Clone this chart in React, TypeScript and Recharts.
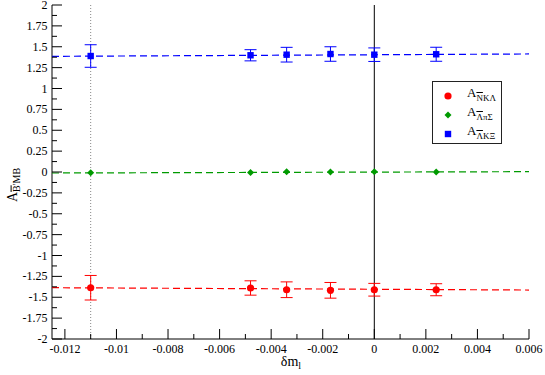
import {
  ErrorBar,
  ReferenceLine,
  Scatter,
  ScatterChart,
  XAxis,
  YAxis,
} from "recharts";

// quark mass shift (x) for each ensemble
const dm = [-0.011, -0.0048, -0.0034, -0.0017, 0, 0.0024];

// A_{N K Lambda}
const nkl = [-1.386, -1.389, -1.41, -1.417, -1.41, -1.41];
const nklErr = [0.147, 0.086, 0.094, 0.094, 0.076, 0.072];

// A_{Lambda pi Sigma}
const lps = [-0.01, -0.006, 0.002, 0.001, 0.003, 0.0];

// A_{Lambda K Xi}
const lkx = [1.389, 1.398, 1.405, 1.413, 1.405, 1.41];
const lkxErr = [0.135, 0.067, 0.088, 0.087, 0.081, 0.084];

// linear fits, evaluated at the plot edges
const fitX = [-0.0125, 0.006];
const fitNkl = [-1.3855, -1.4135];
const fitLps = [-0.012, 0.004];
const fitLkx = [1.385, 1.4135];

const xMajor = [-0.012, -0.01, -0.008, -0.006, -0.004, -0.002, 0, 0.002, 0.004, 0.006];
const xMinor = [-0.011, -0.009, -0.007, -0.005, -0.003, -0.001, 0.001, 0.003, 0.005];
const yMajor = [-2, -1.75, -1.5, -1.25, -1, -0.75, -0.5, -0.25, 0, 0.25, 0.5, 0.75, 1, 1.25, 1.5, 1.75, 2];
const yMinor = [-1.875, -1.625, -1.375, -1.125, -0.875, -0.625, -0.375, -0.125, 0.125, 0.375, 0.625, 0.875, 1.125, 1.375, 1.625, 1.875];

const FONT = "'Liberation Serif', serif";
const RED = "#ff0000";
const GREEN = "#009a00";
const BLUE = "#0000ff";

const pts = (ys: number[], errs?: number[]) =>
  dm.map((x, i) => ({ x, y: ys[i], err: errs ? errs[i] : 0 }));
const fit = (ys: number[]) => fitX.map((x, i) => ({ x, y: ys[i] }));

const labelStyle = { fontFamily: FONT, fontSize: 12 };

const BottomTick = ({ x, y, payload }: any) => {
  const major = xMajor.includes(payload.value);
  return (
    <g>
      <line x1={x} y1={y} x2={x} y2={y - (major ? 10 : 5)} stroke="#000" />
      {major && (
        <text x={x} y={y + 13.5} textAnchor="middle" style={labelStyle} fill="#000">
          {String(payload.value)}
        </text>
      )}
    </g>
  );
};

const TopTick = ({ x, y, payload }: any) => {
  const major = xMajor.includes(payload.value);
  return <line x1={x} y1={y} x2={x} y2={y + (major ? 10 : 5)} stroke="#000" />;
};

const LeftTick = ({ x, y, payload }: any) => {
  const major = yMajor.includes(payload.value);
  return (
    <g>
      <line x1={x} y1={y} x2={x + (major ? 10 : 5)} y2={y} stroke="#000" />
      {major && (
        <text x={x - 4.5} y={y + 4} textAnchor="end" style={labelStyle} fill="#000">
          {String(payload.value)}
        </text>
      )}
    </g>
  );
};

const RightTick = ({ x, y, payload }: any) => {
  const major = yMajor.includes(payload.value);
  return <line x1={x} y1={y} x2={x - (major ? 10 : 5)} y2={y} stroke="#000" />;
};

const Dot = ({ cx, cy }: any) => <circle cx={cx} cy={cy} r={3.6} fill={RED} />;
const Diamond = ({ cx, cy }: any) => (
  <polygon points={`${cx},${cy - 3.5} ${cx + 3.5},${cy} ${cx},${cy + 3.5} ${cx - 3.5},${cy}`} fill={GREEN} />
);
const Square = ({ cx, cy }: any) => <rect x={cx - 3.2} y={cy - 3.2} width={6.4} height={6.4} fill={BLUE} />;
const NoShape = () => <g />;

const legendRows = [
  { shape: "dot", color: RED, bar: "N", rest: "KΛ" },
  { shape: "diamond", color: GREEN, bar: "Λ", rest: "πΣ" },
  { shape: "square", color: BLUE, bar: "Λ", rest: "KΞ" },
];

const Marker = ({ shape, color }: { shape: string; color: string }) => (
  <svg width={10} height={10} style={{ display: "block" }}>
    {shape === "dot" && <circle cx={5} cy={5} r={3.6} fill={color} />}
    {shape === "diamond" && <polygon points="5,1.5 8.5,5 5,8.5 1.5,5" fill={color} />}
    {shape === "square" && <rect x={1.8} y={1.8} width={6.4} height={6.4} fill={color} />}
  </svg>
);

export default function App() {
  const lineStyle = { strokeWidth: 1.2, strokeDasharray: "7 4" };
  return (
    <div style={{ position: "absolute", left: 0, top: 0, width: 545, height: 375, fontFamily: FONT }}>
      <ScatterChart width={545} height={375} margin={{ top: 5, right: 16, bottom: 0, left: 0 }}>
        <XAxis
          dataKey="x"
          type="number"
          domain={[-0.0125, 0.006]}
          ticks={[...xMajor, ...xMinor]}
          interval={0}
          height={36}
          tickSize={0}
          tickMargin={0}
          axisLine={{ stroke: "#000" }}
          tickLine={false}
          tick={<BottomTick />}
        />
        <XAxis
          xAxisId="top"
          orientation="top"
          dataKey="x"
          type="number"
          domain={[-0.0125, 0.006]}
          ticks={[...xMajor, ...xMinor]}
          interval={0}
          height={0}
          tickSize={0}
          tickMargin={0}
          axisLine={{ stroke: "#000" }}
          tickLine={false}
          tick={<TopTick />}
        />
        <YAxis
          dataKey="y"
          type="number"
          domain={[-2, 2]}
          ticks={[...yMajor, ...yMinor]}
          interval={0}
          width={52}
          tickSize={0}
          tickMargin={0}
          axisLine={{ stroke: "#000" }}
          tickLine={false}
          tick={<LeftTick />}
        />
        <YAxis
          yAxisId="right"
          orientation="right"
          dataKey="y"
          type="number"
          domain={[-2, 2]}
          ticks={[...yMajor, ...yMinor]}
          interval={0}
          width={0}
          tickSize={0}
          tickMargin={0}
          axisLine={{ stroke: "#000" }}
          tickLine={false}
          tick={<RightTick />}
        />
        <ReferenceLine x={-0.011} stroke="#888" strokeDasharray="1 2" />
        <ReferenceLine x={0} stroke="#000" />

        <Scatter data={fit(fitNkl)} fill={RED} line={{ stroke: RED, ...lineStyle }} shape={<NoShape />} isAnimationActive={false} />
        <Scatter data={fit(fitLps)} fill={GREEN} line={{ stroke: GREEN, ...lineStyle }} shape={<NoShape />} isAnimationActive={false} />
        <Scatter data={fit(fitLkx)} fill={BLUE} line={{ stroke: BLUE, ...lineStyle }} shape={<NoShape />} isAnimationActive={false} />

        <Scatter data={pts(nkl, nklErr)} fill={RED} shape={<Dot />} isAnimationActive={false}>
          <ErrorBar dataKey="err" direction="y" width={6} stroke={RED} strokeWidth={1} />
        </Scatter>
        <Scatter data={pts(lps)} fill={GREEN} shape={<Diamond />} isAnimationActive={false} />
        <Scatter data={pts(lkx, lkxErr)} fill={BLUE} shape={<Square />} isAnimationActive={false}>
          <ErrorBar dataKey="err" direction="y" width={6} stroke={BLUE} strokeWidth={1} />
        </Scatter>
      </ScatterChart>

      {/* y axis title */}
      <div
        style={{
          position: "absolute",
          left: 15,
          top: 185,
          transform: "translate(-50%, -50%) rotate(-90deg)",
          whiteSpace: "nowrap",
          fontSize: 14,
          lineHeight: "16px",
        }}
      >
        A
        <sub style={{ fontSize: 10 }}>
          <span style={{ textDecoration: "overline" }}>B</span>'MB
        </sub>
      </div>

      {/* x axis title */}
      <div
        style={{
          position: "absolute",
          left: 291,
          top: 364,
          transform: "translate(-50%, -50%)",
          whiteSpace: "nowrap",
          fontSize: 14,
          lineHeight: "14px",
        }}
      >
        δm<sub style={{ fontSize: 10 }}>l</sub>
      </div>

      {/* legend */}
      <div
        style={{
          position: "absolute",
          left: 432,
          top: 81,
          width: 68,
          height: 61,
          border: "1px solid #222",
          background: "#fff",
        }}
      >
        {legendRows.map((r, i) => (
          <div key={i} style={{ position: "absolute", left: 0, top: 4 + i * 19, height: 19, display: "flex", alignItems: "center" }}>
            <div style={{ marginLeft: 10 }}>
              <Marker shape={r.shape} color={r.color} />
            </div>
            <div style={{ marginLeft: 14, fontSize: 13, whiteSpace: "nowrap", lineHeight: "15px" }}>
              A
              <sub style={{ fontSize: 9 }}>
                <span style={{ textDecoration: "overline" }}>{r.bar}</span>
                {r.rest}
              </sub>
            </div>
          </div>
        ))}
      </div>
    </div>
  );
}
